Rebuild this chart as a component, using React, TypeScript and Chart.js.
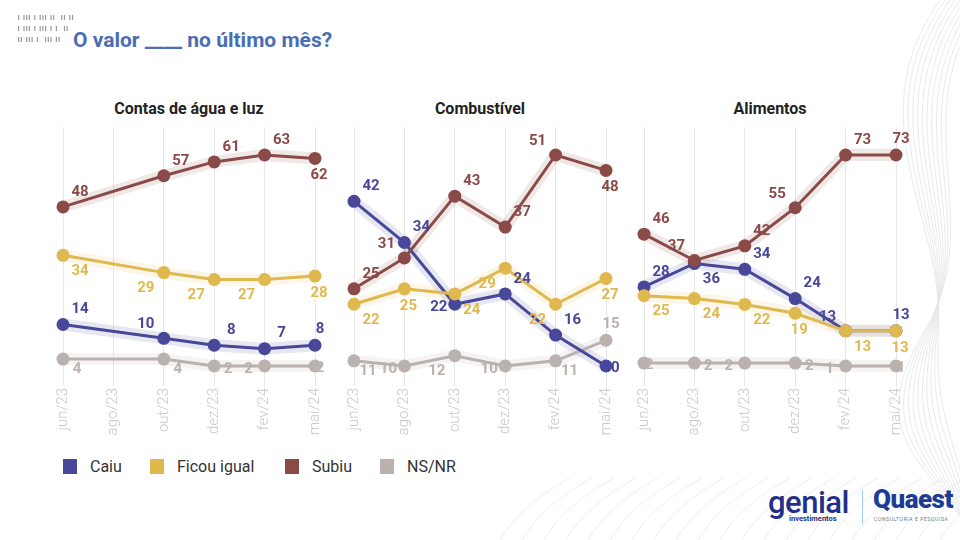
import React, { useEffect, useRef } from "react";
import { Chart, registerables } from "chart.js";

Chart.register(...registerables);

// ---------- data ----------
const months = ["jun/23", "ago/23", "out/23", "dez/23", "fev/24", "mai/24"];
const seriesNames = ["Caiu", "Ficou igual", "Subiu", "NS/NR"];
const panelTitles = ["Contas de água e luz", "Combustível", "Alimentos"];

// Contas de água e luz (no survey in ago/23)
const contasCaiu = [14, null, 10, 8, 7, 8];
const contasIgual = [34, null, 29, 27, 27, 28];
const contasSubiu = [48, null, 57, 61, 63, 62];
const contasNsnr = [4, null, 4, 2, 2, 2];

// Combustível
const combCaiu = [42, 34, 22, 24, 16, 10];
const combIgual = [22, 25, 24, 29, 22, 27];
const combSubiu = [25, 31, 43, 37, 51, 48];
const combNsnr = [11, 10, 12, 10, 11, 15];

// Alimentos
const alimCaiu = [28, 36, 34, 24, 13, 13];
const alimIgual = [25, 24, 22, 19, 13, 13];
const alimSubiu = [46, 37, 42, 55, 73, 73];
const alimNsnr = [2, 2, 2, 2, 1, 1];

// ---------- styles ----------
const colors = ["#48479a", "#dfb94f", "#8a4a47", "#b9b2af"];
const bandColors = [
  "rgba(72,71,154,0.13)",
  "rgba(223,185,79,0.13)",
  "rgba(138,74,71,0.13)",
  "rgba(185,178,175,0.15)",
];
const drawOrder = [2, 1, 0, 3];

// label placement codes (offset from point)
const LBL: Record<string, [number, number]> = {
  ar: [17, -15],
  al: [-18, -14],
  br: [17, 16],
  bl: [-18, 16],
  a: [5, -16],
  b: [4, 17],
  r: [14, 3],
  l: [-16, 3],
  gr: [14, 10],
  c: [5, 2],
};

const panelLabelPos = [
  [
    ["ar", "", "al", "ar", "ar", "a"],
    ["br", "", "bl", "bl", "bl", "b"],
    ["ar", "", "ar", "ar", "ar", "b"],
    ["gr", "", "gr", "r", "l", "c"],
  ],
  [
    ["ar", "ar", "l", "ar", "ar", "c"],
    ["br", "b", "br", "bl", "bl", "b"],
    ["ar", "al", "ar", "ar", "al", "b"],
    ["gr", "l", "bl", "l", "gr", "a"],
  ],
  [
    ["ar", "br", "ar", "ar", "al", "a"],
    ["br", "br", "br", "b", "br", "b"],
    ["ar", "al", "ar", "al", "ar", "a"],
    ["c", "r", "l", "r", "l", "c"],
  ],
];

const panels = [
  { title: panelTitles[0], series: [contasCaiu, contasIgual, contasSubiu, contasNsnr], left: 63 },
  { title: panelTitles[1], series: [combCaiu, combIgual, combSubiu, combNsnr], left: 354 },
  { title: panelTitles[2], series: [alimCaiu, alimIgual, alimSubiu, alimNsnr], left: 644 },
];

const FONT = "Roboto, 'Noto Sans', sans-serif";
const PAD_X = 30;
const PLOT_W = 252;
const CANVAS_TOP = 120;
const CANVAS_H = 320;
const X_AXIS_H = 68;

function Panel({ idx }: { idx: number }) {
  const ref = useRef<HTMLCanvasElement | null>(null);
  const p = panels[idx];

  useEffect(() => {
    if (!ref.current) return;
    const all = p.series.flat().filter((v) => v !== null) as number[];
    const dmin = Math.min(...all);
    const dmax = Math.max(...all);
    const D = dmax - dmin;
    const yMax = dmax + (28 / 211) * D;
    const yMin = dmin - (6 / 211) * D;

    const datasets: any[] = [];
    p.series.forEach((s, i) => {
      datasets.push({
        label: seriesNames[i],
        data: s,
        borderColor: colors[i],
        backgroundColor: colors[i],
        borderWidth: 3,
        pointRadius: 6.5,
        pointHoverRadius: 6.5,
        pointBorderWidth: 0,
        spanGaps: true,
        clip: false,
        order: drawOrder[i],
        tension: 0,
      });
    });
    p.series.forEach((s, i) => {
      datasets.push({
        label: seriesNames[i] + "_band",
        data: s,
        borderColor: bandColors[i],
        borderWidth: 12,
        pointRadius: 0,
        spanGaps: true,
        clip: false,
        order: 10 + drawOrder[i],
        borderCapStyle: "round",
        borderJoinStyle: "round",
      });
    });

    const labelPlugin = {
      id: "valueLabels",
      afterDatasetsDraw(chart: any) {
        const ctx = chart.ctx;
        ctx.save();
        ctx.font = `bold 15px ${FONT}`;
        ctx.textAlign = "center";
        ctx.textBaseline = "middle";
        for (let i = 0; i < 4; i++) {
          const meta = chart.getDatasetMeta(i);
          const vals = p.series[i];
          meta.data.forEach((pt: any, j: number) => {
            const v = vals[j];
            if (v === null || v === undefined) return;
            const code = panelLabelPos[idx][i][j];
            const off = LBL[code] || [0, -15];
            ctx.fillStyle = colors[i];
            ctx.fillText(String(v), pt.x + off[0], pt.y + off[1]);
          });
        }
        ctx.restore();
      },
    };

    const chart = new Chart(ref.current, {
      type: "line",
      data: { labels: months, datasets },
      options: {
        animation: false,
        responsive: false,
        devicePixelRatio: 1,
        layout: { padding: { left: PAD_X, right: PAD_X, top: 7, bottom: 0 } },
        plugins: { legend: { display: false }, tooltip: { enabled: false } },
        scales: {
          x: {
            type: "category",
            offset: false,
            grid: { color: "#e8e8e8", lineWidth: 1, drawTicks: true, tickLength: 14, tickColor: "#e8e8e8" },
            border: { display: false },
            ticks: {
              color: "#c8c8c8",
              font: { family: FONT, size: 15, weight: "300" },
              minRotation: 90,
              maxRotation: 90,
              autoSkip: false,
              padding: 2,
            },
            afterFit: (axis: any) => {
              axis.height = X_AXIS_H;
            },
          },
          y: { display: false, min: yMin, max: yMax },
        },
      } as any,
      plugins: [labelPlugin],
    });
    return () => chart.destroy();
  }, [idx]);

  return (
    <>
      <div
        style={{
          position: "absolute",
          left: p.left,
          width: PLOT_W,
          top: 99,
          textAlign: "center",
          font: `bold 16px ${FONT}`,
          color: "#222",
        }}
      >
        {p.title}
      </div>
      <canvas
        ref={ref}
        width={PLOT_W + 2 * PAD_X}
        height={CANVAS_H}
        style={{
          position: "absolute",
          left: p.left - PAD_X,
          top: CANVAS_TOP,
          width: PLOT_W + 2 * PAD_X,
          height: CANVAS_H,
        }}
      />
    </>
  );
}

const barcodeRows = ["| ||| | ||| ||  || ||", "| ||| | ||| | |  ||", "|| ||| |  ||| ||"];

function Barcode() {
  const rects: any[] = [];
  barcodeRows.forEach((row, r) => {
    let x = 18;
    for (const ch of row) {
      if (ch === "|") rects.push(<rect key={`${r}-${x}`} x={x} y={15 + r * 11} width={1.2} height={5} fill="#9a9a9a" />);
      x += 2.7;
    }
  });
  return (
    <svg style={{ position: "absolute", left: 0, top: 0 }} width={90} height={50}>
      {rects}
    </svg>
  );
}

function Decor() {
  const curves: any[] = [];
  for (let k = 0; k < 10; k++) {
    const o = k * 5;
    curves.push(
      <path
        key={"c" + k}
        d={`M ${985 - o} 0 C ${900 - o} 120, ${990 - o} 220, ${925 + o * 0.3} 330 S ${930 + o} 460, ${975 - o * 0.2} 540`}
        stroke="#e3e5ea"
        fill="none"
        strokeWidth={0.8}
      />
    );
  }
  for (let k = 0; k < 22; k++) {
    const x = 500 + k * 22;
    curves.push(
      <path key={"d" + k} d={`M ${x} 540 Q ${x + 20} 505, ${x + 70} 478`} stroke="#e6e8ee" fill="none" strokeWidth={0.8} />
    );
  }
  return (
    <svg style={{ position: "absolute", left: 0, top: 0 }} width={960} height={540}>
      {curves}
    </svg>
  );
}

function Legend() {
  const xs = [63, 150, 285, 380];
  return (
    <>
      {seriesNames.map((n, i) => (
        <div key={n} style={{ position: "absolute", left: xs[i], top: 457, display: "flex", alignItems: "center" }}>
          <div style={{ width: 14, height: 15, background: colors[i], marginRight: 13 }} />
          <span style={{ font: `16px ${FONT}`, color: "#333" }}>{n}</span>
        </div>
      ))}
    </>
  );
}

function Logos() {
  return (
    <>
      <div style={{ position: "absolute", left: 768, top: 484, font: `500 31px ${FONT}`, color: "#1f2f8a", letterSpacing: -0.5 }}>
        genial
      </div>
      <div style={{ position: "absolute", left: 789, top: 514, font: `bold 7.5px ${FONT}`, color: "#1f2f8a" }}>
        investimentos
      </div>
      <div style={{ position: "absolute", left: 862, top: 490, width: 1, height: 34, background: "#9fd3ef" }} />
      <div style={{ position: "absolute", left: 873, top: 484, font: `900 26px ${FONT}`, color: "#1d3c94", letterSpacing: -0.5 }}>
        Quaest
      </div>
      <div style={{ position: "absolute", left: 874, top: 516, font: `5px ${FONT}`, color: "#777", letterSpacing: 0.6 }}>
        CONSULTORIA E PESQUISA
      </div>
    </>
  );
}

export default function App() {
  return (
    <div style={{ position: "absolute", left: 0, top: 0, width: 960, height: 540, background: "#fff", overflow: "hidden" }}>
      <Decor />
      <Barcode />
      <div style={{ position: "absolute", left: 73, top: 28, font: `bold 21px ${FONT}`, color: "#4a6db3" }}>
        O valor ____ no último mês?
      </div>
      <Panel idx={0} />
      <Panel idx={1} />
      <Panel idx={2} />
      <Legend />
      <Logos />
    </div>
  );
}
